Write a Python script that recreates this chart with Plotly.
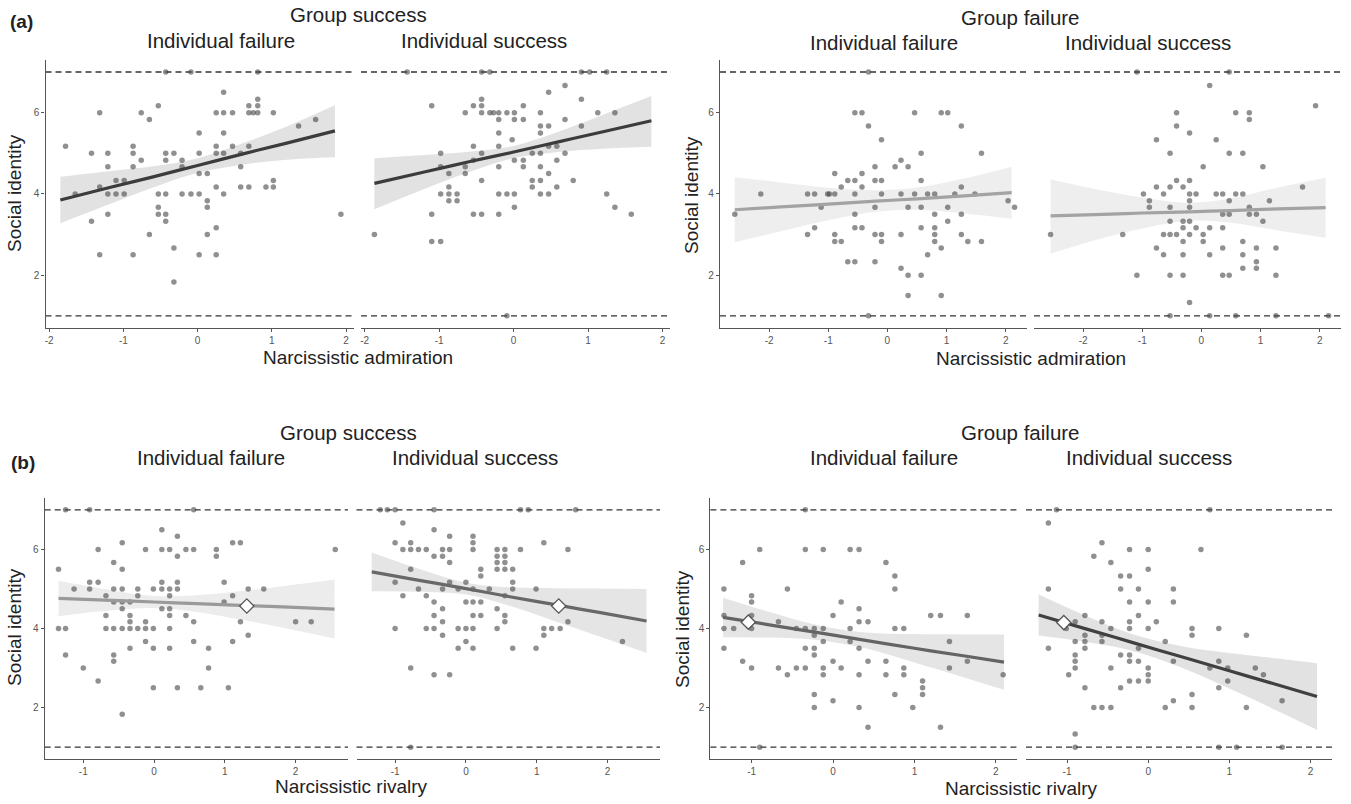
import plotly.graph_objects as go

# ---------------- DATA ----------------
# Panel (a) Group success / Individual failure
a1_x = [-1.78,-1.65,-1.43,-1.43,-1.32,-1.32,-1.32,-1.21,-1.21,-1.21,-1.21,-1.10,-1.10,-0.99,-0.99,-0.87,-0.87,-0.87,-0.87,-0.76,
        -0.76,-0.65,-0.65,-0.53,-0.53,-0.53,-0.53,-0.43,-0.43,-0.43,-0.43,-0.43,-0.43,-0.32,-0.32,-0.32,-0.21,-0.21,-0.21,-0.09,
        -0.09,0.02,0.02,0.02,0.02,0.02,0.13,0.13,0.13,0.13,0.25,0.25,0.25,0.25,0.25,0.25,0.35,0.35,0.35,0.35,
        0.35,0.47,0.47,0.58,0.58,0.58,0.69,0.69,0.69,0.69,0.75,0.81,0.81,0.81,0.81,0.92,1.02,1.02,1.02,1.36,1.59,1.93]
a1_y = [5.17,4.0,5.0,3.33,6.0,4.17,2.5,5.0,4.67,4.0,3.5,4.33,4.0,4.33,4.0,5.17,5.0,4.67,2.5,6.0,
        4.83,5.83,3.0,6.17,4.0,3.67,3.5,7.0,5.0,4.83,4.0,3.5,3.33,5.0,2.67,1.83,4.67,4.0,4.83,7.0,
        4.0,5.5,5.0,4.5,4.0,2.5,3.83,3.67,3.0,4.5,6.0,5.17,5.0,4.17,3.17,2.5,6.5,6.0,5.5,5.0,
        4.0,6.0,5.17,5.0,4.67,4.17,6.17,6.0,5.17,4.17,6.0,7.0,6.33,6.17,6.0,4.17,6.0,4.33,4.17,5.67,5.83,3.5]

# Panel (a) Group success / Individual success
a2_x = [-1.87,-1.43,-1.10,-1.10,-1.10,-0.98,-0.98,-0.98,-0.98,-0.87,-0.87,-0.87,-0.87,-0.76,-0.76,-0.65,-0.65,-0.65,-0.54,-0.54,
        -0.54,-0.54,-0.43,-0.43,-0.43,-0.43,-0.43,-0.43,-0.43,-0.32,-0.32,-0.27,-0.20,-0.20,-0.20,-0.20,-0.20,-0.20,-0.20,-0.09,
        -0.09,0.01,0.01,0.01,0.01,0.01,-0.02,0.13,0.13,0.13,0.13,0.25,0.25,0.25,0.36,0.36,0.36,0.36,0.36,0.36,
        0.36,0.47,0.47,0.47,0.47,0.47,0.58,0.58,0.58,0.69,0.69,0.69,0.80,0.91,0.91,0.91,1.02,1.13,1.25,1.25,
        1.36,1.36,1.58,-0.09]
a2_y = [3.0,7.0,6.17,3.5,2.83,5.0,4.67,4.0,2.83,4.5,4.17,4.0,3.83,4.0,3.83,6.0,4.67,4.5,6.17,5.17,
        3.5,4.83,7.0,6.33,6.17,6.0,5.0,4.33,3.5,7.0,6.0,6.0,6.0,5.83,5.5,5.17,4.67,4.0,3.5,6.0,
        4.0,5.83,6.0,4.83,4.0,3.67,5.33,6.17,5.83,4.83,4.67,4.33,4.17,5.0,6.0,5.67,5.5,5.0,4.67,4.33,
        4.0,6.5,5.67,5.17,4.5,4.0,5.17,4.83,4.17,6.67,5.83,5.0,4.33,7.0,6.33,5.67,7.0,6.0,7.0,4.0,
        6.0,3.67,3.5,1.0]

# Panel (a) Group failure / Individual failure
a3_x = [-2.58,-2.14,-1.35,-1.35,-1.23,-1.23,-1.12,-1.01,-0.98,-0.89,-0.89,-0.89,-0.89,-0.78,-0.78,-0.67,-0.67,-0.55,-0.55,-0.55,
        -0.55,-0.55,-0.55,-0.43,-0.43,-0.43,-0.43,-0.32,-0.32,-0.32,-0.21,-0.21,-0.21,-0.21,-0.21,-0.10,-0.10,-0.10,-0.10,-0.10,
        0.13,0.23,0.23,0.23,0.23,0.35,0.35,0.35,0.35,0.46,0.46,0.57,0.57,0.57,0.57,0.57,0.68,0.68,0.80,0.80,
        0.80,0.80,0.80,0.91,0.91,0.91,1.02,1.02,1.02,1.14,1.25,1.25,1.25,1.25,1.36,1.48,1.59,1.59,2.04,2.15]
a3_y = [3.5,4.0,3.0,4.0,4.0,3.17,3.67,4.0,4.0,4.5,4.0,3.0,2.83,4.17,2.83,4.33,2.33,6.0,4.33,4.0,
        3.5,3.17,2.33,6.0,4.5,4.17,3.17,5.67,7.0,1.0,4.67,4.33,3.67,3.0,2.33,5.33,4.33,4.0,3.0,2.83,
        4.67,4.83,4.0,3.0,2.17,4.67,3.67,2.0,1.5,6.0,4.0,5.0,4.33,3.67,3.17,2.0,2.5,4.0,4.0,3.5,
        3.17,3.0,2.83,6.0,2.67,1.5,6.0,3.67,3.33,4.0,5.67,4.17,3.5,3.0,2.83,4.0,5.0,2.83,3.83,3.67]

# Panel (a) Group failure / Individual success
a4_x = [-2.55,-1.33,-1.09,-0.98,-0.88,-0.88,-0.76,-0.76,-0.76,-0.64,-0.64,-0.64,-0.53,-0.53,-0.53,-0.53,-0.53,-0.53,-0.53,-0.42,
        -0.42,-0.42,-0.42,-0.31,-0.31,-0.31,-0.31,-0.31,-0.31,-0.20,-0.20,-0.20,-0.20,-0.20,-0.20,-0.20,-0.20,-0.09,-0.09,0.03,
        0.03,0.03,0.14,0.14,0.14,0.14,0.25,0.25,0.36,0.36,0.36,0.36,0.36,0.47,0.47,0.47,0.47,0.47,0.58,0.58,
        0.58,0.70,0.70,0.70,0.70,0.70,0.81,0.81,0.81,0.81,0.93,0.93,0.93,0.93,1.04,1.04,1.15,1.26,1.26,1.26,
        1.71,1.93,2.15,-1.09]
a4_y = [3.0,3.0,2.0,4.0,3.83,3.67,5.33,4.17,2.67,4.0,3.0,2.5,5.0,4.17,3.67,3.33,3.0,2.0,1.0,6.0,
        5.67,4.33,3.0,4.17,3.33,3.17,2.83,2.5,2.0,5.5,4.33,4.0,3.83,3.67,3.33,3.0,1.33,4.0,3.17,4.67,
        3.0,2.83,3.17,2.5,6.67,1.0,5.33,4.0,4.0,3.5,3.17,2.67,2.0,5.0,3.83,3.5,2.0,7.0,6.0,4.0,
        1.0,5.0,4.0,2.83,2.5,2.17,6.0,5.83,3.67,3.5,3.5,2.67,2.33,2.17,4.67,3.33,3.83,2.67,2.0,1.0,
        4.17,6.17,1.0,7.0]

# Panel (b) Group success / Individual failure
b1_x = [-1.35,-1.35,-1.25,-1.25,-1.25,-1.13,-1.00,-0.91,-0.91,-0.91,-0.79,-0.79,-0.79,-0.68,-0.68,-0.68,-0.57,-0.57,-0.57,-0.57,
        -0.57,-0.57,-0.45,-0.45,-0.45,-0.45,-0.45,-0.45,-0.45,-0.34,-0.34,-0.34,-0.34,-0.34,-0.23,-0.23,-0.23,-0.12,-0.12,-0.12,
        -0.12,-0.01,-0.01,-0.01,-0.01,0.11,0.11,0.11,0.11,0.11,0.22,0.22,0.22,0.22,0.22,0.22,0.22,0.33,0.33,0.33,
        0.33,0.33,0.45,0.45,0.56,0.56,0.56,0.56,0.66,0.77,0.77,0.88,0.88,0.99,0.99,1.05,1.11,1.11,1.11,1.22,
        1.22,1.33,1.33,1.55,2.00,2.22,2.56]
b1_y = [5.5,4.0,7.0,4.0,3.33,5.0,3.0,7.0,5.17,5.0,6.0,5.17,2.67,4.83,4.33,4.0,5.67,5.0,4.67,4.0,
        3.33,3.17,6.17,5.5,5.0,4.67,4.5,4.0,1.83,4.67,4.33,4.17,4.0,3.5,5.0,4.0,4.83,6.0,4.17,4.0,
        3.67,5.0,4.0,3.5,2.5,6.5,6.0,5.17,5.0,4.5,6.0,5.0,4.83,4.5,4.33,4.0,3.5,6.33,5.83,5.17,
        5.0,2.5,6.0,4.33,6.0,4.17,3.67,7.0,2.5,3.5,3.0,6.0,5.83,5.17,4.67,2.5,6.17,4.83,3.67,6.17,
        4.17,5.0,3.83,5.0,4.17,4.17,6.0]

# Panel (b) Group success / Individual success
b2_x = [-1.21,-1.11,-1.00,-1.00,-1.00,-1.00,-0.89,-0.89,-0.89,-0.78,-0.78,-0.78,-0.78,-0.78,-0.67,-0.67,-0.56,-0.56,-0.56,-0.45,
        -0.45,-0.45,-0.45,-0.45,-0.45,-0.45,-0.33,-0.33,-0.33,-0.33,-0.33,-0.33,-0.23,-0.23,-0.23,-0.23,-0.23,-0.11,-0.11,-0.11,
        0.00,0.00,0.00,0.00,0.10,0.10,0.10,0.10,0.10,0.10,0.10,0.10,0.21,0.21,0.21,0.21,0.33,0.44,0.44,0.44,
        0.44,0.44,0.44,0.55,0.55,0.55,0.55,0.55,0.55,0.55,0.66,0.66,0.66,0.66,0.77,0.77,0.88,0.99,0.99,1.10,
        1.10,1.10,1.21,1.33,1.44,1.44,1.55,2.21]
b2_y = [7.0,7.0,6.17,5.17,4.0,7.0,6.67,6.0,4.83,6.17,5.5,3.0,6.0,1.0,6.0,5.0,6.0,4.83,4.0,6.5,
        5.83,4.67,4.33,4.0,2.83,7.0,6.0,5.83,5.0,4.5,4.17,3.83,6.33,6.0,5.67,5.17,2.83,5.0,4.0,3.5,
        5.17,4.67,4.0,3.67,6.33,6.17,6.0,5.0,4.67,4.33,4.0,3.5,5.5,5.33,4.67,4.33,5.0,6.0,5.83,5.67,
        5.5,4.5,4.0,6.0,5.83,5.67,5.5,4.83,4.33,4.17,5.5,5.17,5.0,3.5,6.0,7.0,7.0,5.0,3.5,6.17,
        4.0,3.83,4.0,4.0,6.0,4.17,7.0,3.67]

# Panel (b) Group failure / Individual failure
b3_x = [-1.34,-1.34,-1.34,-1.34,-1.22,-1.11,-1.11,-1.00,-1.00,-1.00,-1.00,-1.00,-0.90,-0.90,-0.67,-0.67,-0.56,-0.56,-0.45,-0.45,
        -0.34,-0.34,-0.34,-0.34,-0.34,-0.23,-0.23,-0.23,-0.23,-0.23,-0.23,-0.12,-0.12,-0.12,-0.12,-0.12,0.00,0.00,0.00,0.10,
        0.10,0.21,0.21,0.21,0.32,0.32,0.32,0.32,0.32,0.32,0.43,0.43,0.43,0.65,0.65,0.65,0.76,0.76,0.76,0.76,
        0.87,0.87,0.87,0.98,1.10,1.10,1.10,1.20,1.32,1.32,1.43,1.43,1.65,1.65,2.09]
b3_y = [5.0,4.33,4.0,3.5,4.0,5.67,3.17,4.83,4.67,4.33,4.0,3.0,6.0,1.0,4.17,3.0,5.0,2.83,4.0,3.0,
        6.0,7.0,4.0,3.5,3.0,4.0,3.83,3.5,3.33,2.33,2.0,6.0,3.67,3.0,2.83,4.0,4.33,3.17,2.17,4.67,
        3.0,6.0,4.0,3.67,6.0,4.5,4.17,3.5,2.83,2.0,4.17,3.17,1.5,5.67,3.17,2.83,5.33,5.0,4.0,2.33,
        4.0,3.0,2.83,2.0,2.67,2.5,2.33,4.33,4.33,1.5,3.67,3.0,4.33,3.17,2.83]

# Panel (b) Group failure / Individual success
b4_x = [-1.23,-1.23,-1.23,-1.13,-1.01,-0.98,-0.90,-0.90,-0.90,-0.90,-0.90,-0.90,-0.90,-0.78,-0.78,-0.78,-0.78,-0.78,-0.67,-0.67,
        -0.57,-0.57,-0.57,-0.57,-0.57,-0.46,-0.46,-0.46,-0.46,-0.34,-0.34,-0.34,-0.34,-0.23,-0.23,-0.23,-0.23,-0.23,-0.23,-0.23,
        -0.23,-0.12,-0.12,-0.12,-0.12,-0.12,0.00,0.00,0.00,0.00,0.00,0.00,0.00,0.10,0.21,0.21,0.31,0.31,0.31,0.31,
        0.54,0.54,0.54,0.54,0.65,0.76,0.76,0.87,0.87,0.87,0.87,0.98,0.98,1.09,1.21,1.21,1.32,1.42,1.65,1.65]
b4_y = [6.67,5.0,3.5,7.0,4.0,2.83,4.17,3.67,3.33,3.17,3.0,1.33,1.0,4.33,3.83,3.67,3.5,2.5,5.83,2.0,
        6.17,4.17,3.83,3.67,2.0,5.67,4.0,3.0,2.0,5.33,5.0,3.33,2.5,6.0,5.33,4.67,4.17,4.0,3.33,3.17,
        2.67,5.0,4.33,3.5,3.17,2.67,6.0,5.5,4.67,4.0,3.0,2.83,2.67,4.17,3.67,2.0,5.0,4.67,3.17,2.17,
        4.0,3.83,2.33,2.0,6.0,7.0,3.0,4.0,3.17,2.5,1.0,3.0,2.67,1.0,3.83,2.0,3.0,2.83,2.17,1.0]

# Fitted lines and confidence bands
a1_fx = [-1.85,-1.2,-0.6,0.0,0.6,1.2,1.85]
a1_fy = [3.85,4.15,4.42,4.70,4.98,5.25,5.55]
a1_lo = [3.28,3.74,4.16,4.52,4.72,4.84,4.90]
a1_hi = [4.42,4.56,4.68,4.88,5.24,5.66,6.18]

a2_fx = [-1.87,-1.2,-0.6,0.0,0.6,1.2,1.85]
a2_fy = [4.26,4.54,4.79,5.03,5.28,5.53,5.80]
a2_lo = [3.62,4.12,4.54,4.88,5.03,5.11,5.16]
a2_hi = [4.88,4.96,5.04,5.18,5.53,5.95,6.41]

a3_fx = [-2.58,-1.8,-1.0,-0.2,0.5,1.3,2.1]
a3_fy = [3.61,3.68,3.75,3.82,3.88,3.95,4.03]
a3_lo = [2.81,3.08,3.35,3.56,3.61,3.52,3.39]
a3_hi = [4.41,4.28,4.15,4.09,4.16,4.38,4.67]

a4_fx = [-2.55,-1.8,-1.0,-0.2,0.5,1.3,2.1]
a4_fy = [3.46,3.49,3.53,3.56,3.59,3.63,3.66]
a4_lo = [2.53,2.86,3.15,3.34,3.29,3.10,2.92]
a4_hi = [4.36,4.12,3.91,3.78,3.89,4.16,4.40]

b1_fx = [-1.35,-0.7,0.0,0.6,1.3,1.9,2.55]
b1_fy = [4.76,4.72,4.67,4.63,4.58,4.54,4.49]
b1_lo = [4.31,4.44,4.52,4.42,4.20,3.99,3.75]
b1_hi = [5.21,5.00,4.82,4.84,4.96,5.09,5.24]

b2_fx = [-1.33,-0.7,0.0,0.6,1.3,1.9,2.55]
b2_fy = [5.43,5.23,5.01,4.81,4.59,4.40,4.19]
b2_lo = [4.94,4.93,4.86,4.58,4.16,3.79,3.38]
b2_hi = [5.92,5.53,5.16,5.04,5.02,5.01,5.00]

b3_fx = [-1.35,-0.8,-0.2,0.4,1.0,1.6,2.1]
b3_fy = [4.28,4.10,3.90,3.70,3.50,3.31,3.15]
b3_lo = [3.78,3.77,3.71,3.50,3.14,2.77,2.45]
b3_hi = [4.78,4.43,4.09,3.90,3.86,3.85,3.85]

b4_fx = [-1.35,-0.8,-0.2,0.4,1.0,1.6,2.08]
b4_fy = [4.34,4.01,3.65,3.29,2.93,2.57,2.28]
b4_lo = [3.82,3.67,3.44,3.02,2.48,1.91,1.44]
b4_hi = [4.86,4.35,3.86,3.56,3.38,3.24,3.12]

# Diamond markers (b panels)
b1_dx, b1_dy = [1.31], [4.57]
b2_dx, b2_dy = [1.31], [4.57]
b3_dx, b3_dy = [-1.04], [4.16]
b4_dx, b4_dy = [-1.04], [4.15]

scale_lines = [1, 7]
y_ticks = [2, 4, 6]
xticks_adm = [-2, -1, 0, 1, 2]
xticks_riv = [-1, 0, 1, 2]

group_titles = ["Group success", "Group failure"]
strip_titles = ["Individual failure", "Individual success"]
x_titles = ["Narcissistic admiration", "Narcissistic rivalry"]
y_title = "Social identity"

# ---------------- LAYOUT GEOMETRY (pixels) ----------------
W, H = 1351, 804
FONT = "Liberation Sans, Arial, sans-serif"

panels = [
    dict(px=(45.5, 353.5), py=(59.8, 328), xr=(-2.05, 2.1), xt=xticks_adm, xs=a1_x, ys=a1_y,
         fx=a1_fx, fy=a1_fy, lo=a1_lo, hi=a1_hi, lc="#3c3c3c", bc="rgba(190,190,190,0.45)", d=None, first=True),
    dict(px=(361, 670), py=(59.8, 328), xr=(-2.05, 2.1), xt=xticks_adm, xs=a2_x, ys=a2_y,
         fx=a2_fx, fy=a2_fy, lo=a2_lo, hi=a2_hi, lc="#3c3c3c", bc="rgba(190,190,190,0.45)", d=None, first=False),
    dict(px=(720, 1027), py=(59.8, 328), xr=(-2.83, 2.36), xt=xticks_adm, xs=a3_x, ys=a3_y,
         fx=a3_fx, fy=a3_fy, lo=a3_lo, hi=a3_hi, lc="#a3a3a3", bc="rgba(200,200,200,0.3)", d=None, first=True),
    dict(px=(1034, 1341), py=(59.8, 328), xr=(-2.83, 2.36), xt=xticks_adm, xs=a4_x, ys=a4_y,
         fx=a4_fx, fy=a4_fy, lo=a4_lo, hi=a4_hi, lc="#a3a3a3", bc="rgba(200,200,200,0.3)", d=None, first=False),
    dict(px=(44.7, 348), py=(498, 759), xr=(-1.545, 2.74), xt=xticks_riv, xs=b1_x, ys=b1_y,
         fx=b1_fx, fy=b1_fy, lo=b1_lo, hi=b1_hi, lc="#9a9a9a", bc="rgba(200,200,200,0.35)", d=(b1_dx, b1_dy), first=True),
    dict(px=(356.5, 660), py=(498, 759), xr=(-1.545, 2.74), xt=xticks_riv, xs=b2_x, ys=b2_y,
         fx=b2_fx, fy=b2_fy, lo=b2_lo, hi=b2_hi, lc="#686868", bc="rgba(190,190,190,0.4)", d=(b2_dx, b2_dy), first=False),
    dict(px=(710.4, 1017.4), py=(498, 759), xr=(-1.506, 2.265), xt=xticks_riv, xs=b3_x, ys=b3_y,
         fx=b3_fx, fy=b3_fy, lo=b3_lo, hi=b3_hi, lc="#646464", bc="rgba(190,190,190,0.4)", d=(b3_dx, b3_dy), first=True),
    dict(px=(1026, 1332), py=(498, 759), xr=(-1.506, 2.265), xt=xticks_riv, xs=b4_x, ys=b4_y,
         fx=b4_fx, fy=b4_fy, lo=b4_lo, hi=b4_hi, lc="#404040", bc="rgba(190,190,190,0.45)", d=(b4_dx, b4_dy), first=False),
]

fig = go.Figure()
layout = dict(width=W, height=H, margin=dict(l=0, r=0, t=0, b=0),
              paper_bgcolor="white", plot_bgcolor="white", showlegend=False,
              font=dict(family=FONT, color="#222"))
shapes = []

for i, p in enumerate(panels, start=1):
    sx = "" if i == 1 else str(i)
    xa, ya = "x" + sx, "y" + sx
    # confidence band: lower edge, then upper edge filled to it
    fig.add_trace(go.Scatter(x=p["fx"], y=p["lo"], mode="lines",
                             line=dict(width=0, shape="spline", color="rgba(0,0,0,0)"),
                             hoverinfo="skip", xaxis=xa, yaxis=ya))
    fig.add_trace(go.Scatter(x=p["fx"], y=p["hi"], mode="lines", fill="tonexty", fillcolor=p["bc"],
                             line=dict(width=0, shape="spline", color="rgba(0,0,0,0)"),
                             hoverinfo="skip", xaxis=xa, yaxis=ya))
    # points
    fig.add_trace(go.Scatter(x=p["xs"], y=p["ys"], mode="markers",
                             marker=dict(size=5.5, color="rgba(70,70,70,0.6)", line=dict(width=0)),
                             hoverinfo="skip", xaxis=xa, yaxis=ya))
    # fitted line
    fig.add_trace(go.Scatter(x=p["fx"], y=p["fy"], mode="lines",
                             line=dict(color=p["lc"], width=3.2, shape="spline"),
                             hoverinfo="skip", xaxis=xa, yaxis=ya))
    if p["d"] is not None:
        fig.add_trace(go.Scatter(x=p["d"][0], y=p["d"][1], mode="markers",
                                 marker=dict(symbol="diamond", size=11, color="white",
                                             line=dict(color="#555", width=1.3)),
                                 hoverinfo="skip", xaxis=xa, yaxis=ya))
    layout["xaxis" + sx] = dict(domain=[p["px"][0] / W, p["px"][1] / W], range=list(p["xr"]),
                                anchor=ya, showline=True, linecolor="#555", linewidth=1.4,
                                ticks="outside", ticklen=3, tickwidth=1, tickcolor="#555",
                                tickvals=p["xt"], ticktext=[str(v) for v in p["xt"]],
                                tickfont=dict(size=10, color="#555", family=FONT),
                                showgrid=False, zeroline=False, fixedrange=True)
    ya_dict = dict(domain=[1 - p["py"][1] / H, 1 - p["py"][0] / H], range=[0.7, 7.3],
                   anchor=xa, showgrid=False, zeroline=False, fixedrange=True)
    if p["first"]:
        ya_dict.update(showline=True, linecolor="#555", linewidth=1.4, ticks="outside", ticklen=3,
                       tickwidth=1, tickcolor="#555", tickvals=y_ticks,
                       tickfont=dict(size=10, color="#555", family=FONT))
    else:
        ya_dict.update(showline=False, showticklabels=False, ticks="")
    layout["yaxis" + sx] = ya_dict
    for lv in scale_lines:
        shapes.append(dict(type="line", xref=xa + " domain", yref=ya, x0=0, x1=1, y0=lv, y1=lv,
                           line=dict(color="#333", width=1.3, dash="6px,4px"), layer="below"))

layout["shapes"] = shapes

def ann(text, px, py, size, bold=False, angle=0, color="#222"):
    return dict(text=("<b>%s</b>" % text) if bold else text, x=px / W, y=1 - py / H,
                xref="paper", yref="paper", showarrow=False, textangle=angle,
                xanchor="center", yanchor="middle",
                font=dict(size=size, family=FONT, color=color))

TS = 20.5  # strip / group title size
AS = 19    # axis title size
anns = [
    ann("(a)", 22, 21, 19, bold=True),
    ann(group_titles[0], 358, 15, TS),
    ann(strip_titles[0], 221, 40, TS),
    ann(strip_titles[1], 484, 40, TS),
    ann(group_titles[1], 1020, 18, TS),
    ann(strip_titles[0], 884, 42, TS),
    ann(strip_titles[1], 1148, 42, TS),
    ann(x_titles[0], 358, 357, AS),
    ann(x_titles[0], 1031, 358, AS),
    ann(y_title, 14, 193, AS, angle=-90),
    ann(y_title, 692, 195, AS, angle=-90),
    ann("(b)", 23, 462, 19, bold=True),
    ann(group_titles[0], 348, 432, TS),
    ann(strip_titles[0], 211, 457, TS),
    ann(strip_titles[1], 475, 457, TS),
    ann(group_titles[1], 1020, 432, TS),
    ann(strip_titles[0], 884, 457, TS),
    ann(strip_titles[1], 1149, 457, TS),
    ann(x_titles[1], 352, 786, AS),
    ann(x_titles[1], 1021, 788, AS),
    ann(y_title, 14, 627, AS, angle=-90),
    ann(y_title, 682, 629, AS, angle=-90),
]
layout["annotations"] = anns
fig.update_layout(**layout)
fig.write_html("out.html", config={"displayModeBar": False},
               post_script="document.body.style.margin='0';document.body.style.overflow='hidden';")
